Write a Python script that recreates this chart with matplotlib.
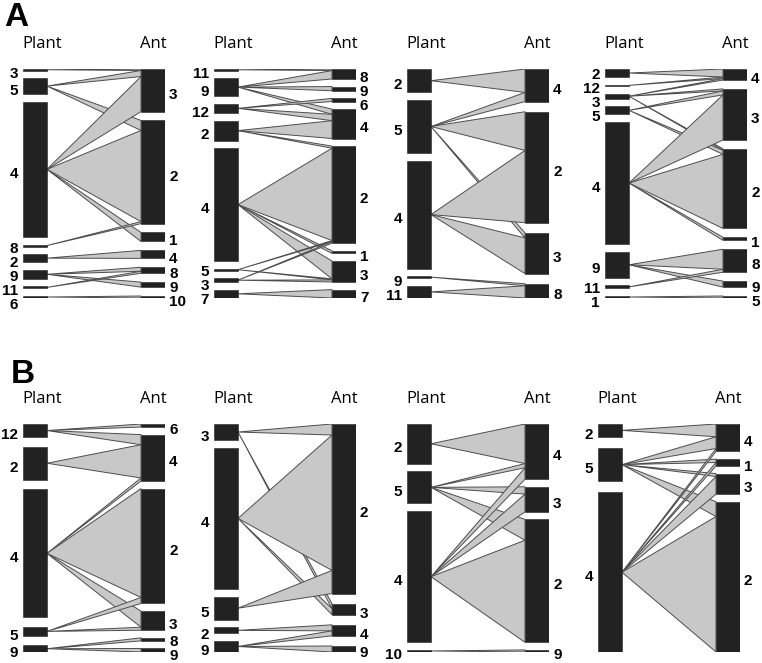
import matplotlib
matplotlib.use("Agg")
import matplotlib.pyplot as plt
from matplotlib.patches import Polygon, Rectangle
from matplotlib.transforms import offset_copy

# ---------------- data ----------------
# each panel: plant order (top->bottom), ant order (top->bottom), links (plant, ant, weight)
A1_plants = ["3", "5", "4", "8", "2", "9", "11", "6"]
A1_ants = ["3", "2", "1", "4", "8", "9", "10"]
A1_links = [("3", "3", 1.5), ("5", "3", 6), ("5", "2", 10), ("4", "3", 35), ("4", "2", 91),
            ("4", "1", 9), ("8", "2", 2), ("2", "4", 8), ("9", "8", 4), ("9", "9", 5),
            ("11", "8", 2), ("6", "10", 2)]

A2_plants = ["11", "9", "12", "2", "4", "5", "3", "7"]
A2_ants = ["8", "9", "6", "4", "2", "1", "3", "7"]
A2_links = [("11", "8", 1.5), ("9", "8", 8), ("9", "9", 4), ("9", "4", 5), ("12", "6", 3),
            ("12", "4", 6), ("2", "4", 17), ("2", "2", 2), ("4", "2", 88), ("4", "1", 2.5),
            ("4", "3", 17), ("5", "2", 1), ("5", "3", 1), ("3", "2", 1.5), ("3", "3", 2),
            ("7", "7", 8)]

A3_plants = ["2", "5", "4", "9", "11"]
A3_ants = ["4", "2", "3", "8"]
A3_links = [("2", "4", 23), ("5", "4", 9), ("5", "2", 38), ("5", "3", 5), ("4", "2", 71),
            ("4", "3", 35), ("9", "8", 2), ("11", "8", 12)]

A4_plants = ["2", "12", "3", "5", "4", "9", "11", "1"]
A4_ants = ["4", "3", "2", "1", "8", "9", "5"]
A4_links = [("2", "4", 8), ("12", "4", 1.5), ("3", "4", 1.5), ("3", "3", 2), ("3", "2", 1.5),
            ("5", "3", 4), ("5", "2", 4), ("4", "3", 45), ("4", "2", 74), ("4", "1", 3),
            ("9", "8", 20), ("9", "9", 6), ("11", "8", 3), ("1", "5", 2)]

B1_plants = ["12", "2", "4", "5", "9"]
B1_ants = ["6", "4", "2", "3", "8", "9"]
B1_links = [("12", "6", 3), ("12", "4", 10), ("2", "4", 33), ("4", "4", 3), ("4", "2", 108),
            ("4", "3", 16), ("5", "2", 6), ("5", "3", 3), ("9", "8", 3), ("9", "9", 3.5)]

B2_plants = ["3", "4", "5", "2", "9"]
B2_ants = ["2", "3", "4", "9"]
B2_links = [("3", "2", 11), ("3", "3", 5), ("4", "2", 135), ("4", "3", 6), ("5", "2", 23),
            ("2", "4", 6), ("9", "4", 5), ("9", "9", 6)]

B3_plants = ["2", "5", "4", "10"]
B3_ants = ["4", "3", "2", "9"]
B3_links = [("2", "4", 38), ("5", "4", 4), ("5", "3", 7), ("5", "2", 20), ("4", "4", 11),
            ("4", "3", 17), ("4", "2", 98), ("10", "9", 2)]

B4_plants = ["2", "5", "4"]
B4_ants = ["4", "1", "3", "2"]
B4_links = [("2", "4", 13), ("5", "4", 12), ("4", "4", 3), ("5", "1", 3.5), ("4", "1", 3.5),
            ("5", "3", 3), ("4", "3", 18), ("5", "2", 15), ("4", "2", 138)]

panel_letters = ["A", "B"]
side_titles = ["Plant", "Ant"]

# ---------------- style / layout ----------------
W, H = 762, 663
fig = plt.figure(figsize=(W / 100, H / 100), dpi=100)
fig.patch.set_facecolor("white")

BOX = "#222222"
LINK_FC = "#c8c8c8"
LINK_EC = "#4d4d4d"
LABEL_FONT = dict(family=["Liberation Sans", "DejaVu Sans"], fontweight="bold", fontsize=11)
TITLE_FONT = dict(family=["Open Sans", "DejaVu Sans"], fontsize=12)

rows = [
    dict(top=69, bottom=298, lefts=[23, 214, 407, 605],
         panels=[(A1_plants, A1_ants, A1_links), (A2_plants, A2_ants, A2_links),
                 (A3_plants, A3_ants, A3_links), (A4_plants, A4_ants, A4_links)]),
    dict(top=424, bottom=652, lefts=[23, 214, 407, 598],
         panels=[(B1_plants, B1_ants, B1_links), (B2_plants, B2_ants, B2_links),
                 (B3_plants, B3_ants, B3_links), (B4_plants, B4_ants, B4_links)]),
]
SPAN = 142      # px from plant box left to ant box right
BW_PX = 24      # box width px
GAP_PX = 7.6    # minimum gap between boxes px
LAB_OFF_PX = 4.5
LAB_MIN_PX = 14.0


def spread(ys, mind):
    groups = []
    for y in ys:
        groups.append([y, 1, y])
        while len(groups) > 1:
            s0, c0, t0 = groups[-2]
            s1, c1, t1 = groups[-1]
            if s0 + c0 * mind > s1:
                t = t0 + (t1 - c0 * mind * c1)
                c = c0 + c1
                groups[-2:] = [[t / c, c, t]]
            else:
                break
    out = []
    for s, c, t in groups:
        out += [s + i * mind for i in range(c)]
    return out


def stack(names, sums, scale):
    n = len(names)
    total = sum(sums[k] for k in names) * scale
    gap = (1.0 - total) / (n - 1) if n > 1 else 0.0
    pos = {}
    y = 0.0
    for k in names:
        h = sums[k] * scale
        pos[k] = (y, h)
        y += h + gap
    return pos


def draw_panel(ax, plants, ants, links, hpx):
    bw = BW_PX / SPAN
    g = GAP_PX / hpx
    psum = {p: 0.0 for p in plants}
    asum = {a: 0.0 for a in ants}
    for p, a, w in links:
        psum[p] += w
        asum[a] += w
    S = sum(psum.values())
    nmax = max(len(plants), len(ants))
    scale = (1.0 - (nmax - 1) * g) / S
    ppos = stack(plants, psum, scale)
    apos = stack(ants, asum, scale)

    # links: ordered within each ant box by plant order
    cursor = {a: apos[a][0] for a in ants}
    order = sorted(links, key=lambda L: plants.index(L[0]))
    for p, a, w in order:
        y0 = cursor[a]
        y1 = y0 + w * scale
        cursor[a] = y1
        pc = ppos[p][0] + ppos[p][1] / 2
        ax.add_patch(Polygon([(bw, pc), (1 - bw, y0), (1 - bw, y1)], closed=True,
                             facecolor=LINK_FC, edgecolor=LINK_EC, lw=0.7, zorder=1))
    for p in plants:
        y, h = ppos[p]
        ax.add_patch(Rectangle((0, y), bw, h, facecolor=BOX, edgecolor=BOX, lw=0.4, zorder=3))
    for a in ants:
        y, h = apos[a]
        ax.add_patch(Rectangle((1 - bw, y), bw, h, facecolor=BOX, edgecolor=BOX, lw=0.4, zorder=3))

    off = LAB_OFF_PX / hpx
    mind = LAB_MIN_PX / hpx
    pl = spread([ppos[p][0] + ppos[p][1] / 2 + off for p in plants], mind)
    al = spread([apos[a][0] + apos[a][1] / 2 + off for a in ants], mind)
    tl = offset_copy(ax.transData, fig=fig, x=-5, y=0, units="dots")
    tr = offset_copy(ax.transData, fig=fig, x=4, y=0, units="dots")
    for p, y in zip(plants, pl):
        ax.text(0, y, p, transform=tl, ha="right", va="center", clip_on=False, **LABEL_FONT)
    for a, y in zip(ants, al):
        ax.text(1, y, a, transform=tr, ha="left", va="center", clip_on=False, **LABEL_FONT)

    tt_p = offset_copy(ax.transData, fig=fig, x=7, y=25, units="dots")
    tt_a = offset_copy(ax.transData, fig=fig, x=0, y=25, units="dots")
    ax.text(bw / 2, 0, side_titles[0], transform=tt_p, ha="center", va="center",
            clip_on=False, **TITLE_FONT)
    ax.text(1 - bw / 2, 0, side_titles[1], transform=tt_a, ha="center", va="center",
            clip_on=False, **TITLE_FONT)


for row in rows:
    hpx = row["bottom"] - row["top"]
    for left, (plants, ants, links) in zip(row["lefts"], row["panels"]):
        ax = fig.add_axes([left / W, 1 - row["bottom"] / H, SPAN / W, hpx / H])
        ax.set_xlim(0, 1)
        ax.set_ylim(1, 0)
        ax.axis("off")
        draw_panel(ax, plants, ants, links, hpx)

fig.text(4 / W, 1 - 2 / H, panel_letters[0], ha="left", va="top",
         family=["Liberation Sans", "DejaVu Sans"], fontweight="bold", fontsize=24)
fig.text(11 / W, 1 - 359 / H, panel_letters[1], ha="left", va="top",
         family=["Liberation Sans", "DejaVu Sans"], fontweight="bold", fontsize=24)

fig.savefig("out.png", dpi=100, facecolor="white")
